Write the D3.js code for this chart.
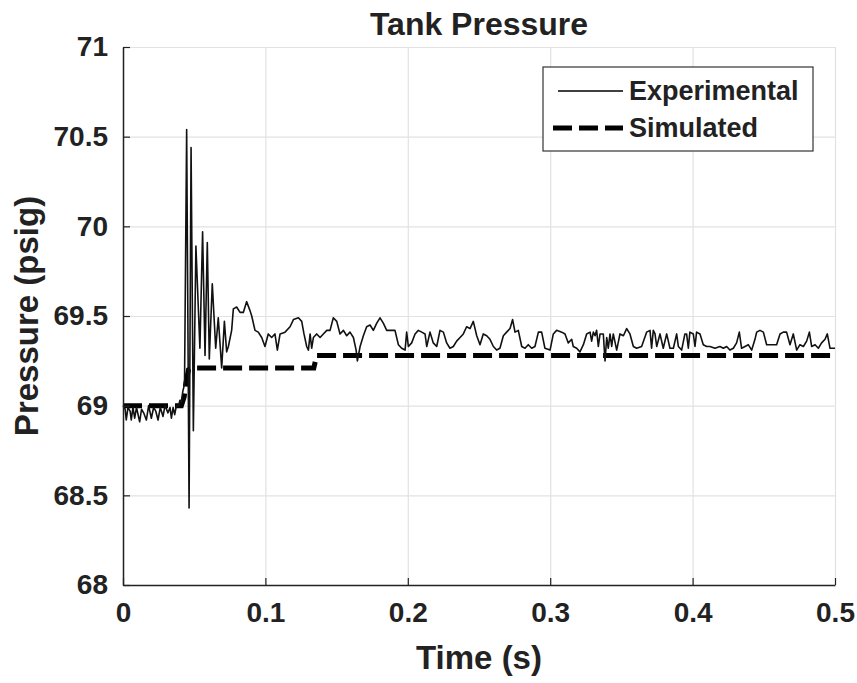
<!DOCTYPE html>
<html>
<head>
<meta charset="utf-8">
<script src="https://cdn.jsdelivr.net/npm/d3@7"></script>
<style>
  body { margin: 0; background: #fff; }
  text { font-family: "Liberation Sans", Arial, sans-serif; font-weight: bold; fill: #222; }
</style>
</head>
<body>
<div id="chart"></div>
<script>
// Tank pressure, experimental vs simulated
const expTime = [
  0.0000, 0.0015, 0.0023, 0.0035, 0.0050, 0.0058, 0.0070, 0.0082, 0.0095, 0.0117,
  0.0130, 0.0145, 0.0164, 0.0180, 0.0199, 0.0215, 0.0230, 0.0246, 0.0262, 0.0281,
  0.0295, 0.0316, 0.0330, 0.0340, 0.0352, 0.0363, 0.0375, 0.0390, 0.0400, 0.0410,
  0.0420, 0.0432, 0.0447, 0.0464, 0.0478, 0.0494, 0.0512, 0.0540, 0.0559, 0.0576,
  0.0592, 0.0606, 0.0627, 0.0651, 0.0669, 0.0693, 0.0712, 0.0728, 0.0740, 0.0763,
  0.0775, 0.0798, 0.0822, 0.0845, 0.0868, 0.0892, 0.0904, 0.0927, 0.0950, 0.0974,
  0.0997, 0.1020, 0.1044, 0.1067, 0.1084, 0.1103, 0.1138, 0.1173, 0.1197, 0.1232,
  0.1255, 0.1271, 0.1290, 0.1302, 0.1314, 0.1325, 0.1337, 0.1360, 0.1384, 0.1407,
  0.1431, 0.1454, 0.1477, 0.1501, 0.1524, 0.1548, 0.1571, 0.1594, 0.1618, 0.1637,
  0.1646, 0.1665, 0.1688, 0.1711, 0.1735, 0.1758, 0.1782, 0.1805, 0.1828, 0.1852,
  0.1875, 0.1910, 0.1934, 0.1957, 0.1981, 0.1992, 0.2004, 0.2027, 0.2051, 0.2074,
  0.2098, 0.2121, 0.2133, 0.2156, 0.2179, 0.2203, 0.2226, 0.2250, 0.2273, 0.2296,
  0.2320, 0.2343, 0.2367, 0.2390, 0.2413, 0.2437, 0.2460, 0.2484, 0.2507, 0.2530,
  0.2554, 0.2577, 0.2601, 0.2624, 0.2647, 0.2671, 0.2694, 0.2718, 0.2736, 0.2753,
  0.2776, 0.2800, 0.2823, 0.2846, 0.2870, 0.2893, 0.2917, 0.2940, 0.2963, 0.2999,
  0.3022, 0.3045, 0.3081, 0.3104, 0.3127, 0.3151, 0.3162, 0.3186, 0.3209, 0.3233,
  0.3256, 0.3280, 0.3291, 0.3303, 0.3315, 0.3326, 0.3338, 0.3350, 0.3373, 0.3385,
  0.3397, 0.3408, 0.3420, 0.3432, 0.3443, 0.3467, 0.3490, 0.3514, 0.3537, 0.3560,
  0.3584, 0.3607, 0.3642, 0.3677, 0.3701, 0.3712, 0.3724, 0.3736, 0.3748, 0.3771,
  0.3794, 0.3818, 0.3841, 0.3865, 0.3888, 0.3900, 0.3923, 0.3946, 0.3958, 0.3970,
  0.3981, 0.4005, 0.4017, 0.4028, 0.4052, 0.4075, 0.4099, 0.4122, 0.4157, 0.4192,
  0.4216, 0.4239, 0.4262, 0.4286, 0.4309, 0.4328, 0.4344, 0.4368, 0.4391, 0.4415,
  0.4438, 0.4450, 0.4473, 0.4497, 0.4520, 0.4544, 0.4567, 0.4590, 0.4614, 0.4637,
  0.4660, 0.4684, 0.4707, 0.4731, 0.4754, 0.4778, 0.4801, 0.4820, 0.4836, 0.4860,
  0.4883, 0.4906, 0.4930, 0.4946, 0.4965, 0.5000
];
const expPressure = [
  69.00, 68.98, 68.92, 68.99, 68.97, 68.92, 68.99, 68.93, 68.99, 68.91,
  68.98, 68.96, 68.92, 69.00, 68.93, 68.99, 68.97, 68.92, 68.99, 68.94,
  69.00, 68.96, 68.99, 68.93, 68.99, 68.95, 69.00, 69.00, 69.03, 69.02,
  69.08, 69.12, 70.54, 68.43, 70.44, 68.86, 69.89, 69.32, 69.97, 69.28,
  69.91, 69.26, 69.68, 69.32, 69.49, 69.21, 69.47, 69.30, 69.33, 69.42,
  69.54, 69.55, 69.52, 69.52, 69.58, 69.53, 69.50, 69.42, 69.41, 69.38,
  69.33, 69.40, 69.38, 69.40, 69.31, 69.40, 69.41, 69.44, 69.48, 69.49,
  69.47, 69.40, 69.33, 69.31, 69.40, 69.32, 69.38, 69.40, 69.38, 69.40,
  69.42, 69.42, 69.49, 69.47, 69.40, 69.42, 69.39, 69.41, 69.38, 69.31,
  69.25, 69.33, 69.39, 69.44, 69.45, 69.42, 69.46, 69.49, 69.46, 69.42,
  69.42, 69.42, 69.34, 69.32, 69.31, 69.41, 69.33, 69.35, 69.40, 69.42,
  69.41, 69.40, 69.33, 69.41, 69.35, 69.33, 69.42, 69.41, 69.35, 69.32,
  69.33, 69.36, 69.38, 69.40, 69.44, 69.43, 69.47, 69.39, 69.34, 69.40,
  69.39, 69.37, 69.33, 69.31, 69.32, 69.39, 69.41, 69.43, 69.48, 69.41,
  69.42, 69.33, 69.32, 69.34, 69.32, 69.33, 69.41, 69.41, 69.32, 69.31,
  69.40, 69.42, 69.41, 69.40, 69.35, 69.37, 69.33, 69.32, 69.30, 69.34,
  69.40, 69.41, 69.36, 69.41, 69.39, 69.42, 69.33, 69.40, 69.40, 69.25,
  69.38, 69.32, 69.40, 69.33, 69.40, 69.31, 69.40, 69.39, 69.43, 69.40,
  69.33, 69.32, 69.33, 69.41, 69.42, 69.32, 69.42, 69.40, 69.33, 69.40,
  69.32, 69.40, 69.32, 69.32, 69.40, 69.33, 69.31, 69.40, 69.40, 69.32,
  69.41, 69.40, 69.33, 69.41, 69.40, 69.34, 69.33, 69.33, 69.32, 69.33,
  69.32, 69.33, 69.31, 69.32, 69.35, 69.41, 69.32, 69.33, 69.34, 69.31,
  69.37, 69.41, 69.42, 69.41, 69.34, 69.34, 69.34, 69.34, 69.40, 69.41,
  69.41, 69.34, 69.40, 69.31, 69.34, 69.33, 69.36, 69.41, 69.33, 69.34,
  69.32, 69.35, 69.37, 69.40, 69.32, 69.32
];

const simTime = [0.000, 0.041, 0.043, 0.044, 0.046, 0.049, 0.134, 0.136, 0.500];
const simPressure = [69.00, 69.00, 69.05, 69.12, 69.20, 69.21, 69.21, 69.28, 69.28];

const xTicks = [0, 0.1, 0.2, 0.3, 0.4, 0.5];
const xTickLabels = ["0", "0.1", "0.2", "0.3", "0.4", "0.5"];
const yTicks = [68, 68.5, 69, 69.5, 70, 70.5, 71];
const yTickLabels = ["68", "68.5", "69", "69.5", "70", "70.5", "71"];

const width = 857, height = 683;
const margin = { top: 47, right: 22, bottom: 98, left: 123 };
const innerW = width - margin.left - margin.right;
const innerH = height - margin.top - margin.bottom;

const svg = d3.select("#chart").append("svg")
  .attr("width", width)
  .attr("height", height);

const g = svg.append("g")
  .attr("transform", `translate(${margin.left},${margin.top})`);

const x = d3.scaleLinear().domain([0, 0.5]).range([0, innerW]);
const y = d3.scaleLinear().domain([68, 71]).range([innerH, 0]);

// grid
g.append("g")
  .attr("transform", `translate(0,${innerH})`)
  .call(d3.axisBottom(x).tickValues(xTicks).tickSize(-innerH).tickFormat(""))
  .call(s => s.select(".domain").remove())
  .call(s => s.selectAll("line").attr("stroke", "#e2e2e2").attr("stroke-width", 1.2));

g.append("g")
  .call(d3.axisLeft(y).tickValues(yTicks).tickSize(-innerW).tickFormat(""))
  .call(s => s.select(".domain").remove())
  .call(s => s.selectAll("line").attr("stroke", "#e2e2e2").attr("stroke-width", 1.2));

// series
const expData = expTime.map((t, i) => ({ t, p: expPressure[i] }));
const simData = simTime.map((t, i) => ({ t, p: simPressure[i] }));

const line = d3.line()
  .x(d => x(d.t))
  .y(d => y(d.p));

g.append("path")
  .datum(simData)
  .attr("fill", "none")
  .attr("stroke", "#000")
  .attr("stroke-width", 5)
  .attr("stroke-dasharray", "19,7")
  .attr("d", line);

g.append("path")
  .datum(expData)
  .attr("fill", "none")
  .attr("stroke", "#111")
  .attr("stroke-width", 1.6)
  .attr("stroke-linejoin", "round")
  .attr("d", line);

// axes
const xAxis = g.append("g")
  .attr("transform", `translate(0,${innerH})`)
  .call(d3.axisBottom(x).tickValues(xTicks)
    .tickFormat((d, i) => xTickLabels[i])
    .tickSizeInner(-7).tickSizeOuter(0).tickPadding(17));

const yAxis = g.append("g")
  .call(d3.axisLeft(y).tickValues(yTicks)
    .tickFormat((d, i) => yTickLabels[i])
    .tickSizeInner(-7).tickSizeOuter(0).tickPadding(15));

[xAxis, yAxis].forEach(a => {
  a.select(".domain").attr("stroke", "#222").attr("stroke-width", 1.5);
  a.selectAll(".tick line").attr("stroke", "#222").attr("stroke-width", 1.2);
  a.selectAll(".tick text")
    .style("font-family", "'Liberation Sans', Arial, sans-serif")
    .style("font-weight", "bold")
    .style("font-size", "28px")
    .attr("fill", "#222");
});

// title and labels
svg.append("text")
  .attr("x", margin.left + innerW / 2)
  .attr("y", 35)
  .attr("text-anchor", "middle")
  .style("font-size", "32px")
  .text("Tank Pressure");

svg.append("text")
  .attr("x", margin.left + innerW / 2)
  .attr("y", 669)
  .attr("text-anchor", "middle")
  .style("font-size", "33px")
  .text("Time (s)");

svg.append("text")
  .attr("transform", `translate(38,${margin.top + innerH / 2}) rotate(-90)`)
  .attr("text-anchor", "middle")
  .style("font-size", "33px")
  .text("Pressure (psig)");

// legend
const legend = svg.append("g").attr("transform", "translate(543,67)");
legend.append("rect")
  .attr("width", 270).attr("height", 84)
  .attr("fill", "#fff").attr("stroke", "#333").attr("stroke-width", 1.2);

const legendItems = [
  { label: "Experimental", width: 1.6, dash: null, yy: 24 },
  { label: "Simulated", width: 5, dash: "19,7", yy: 61 }
];
legendItems.forEach(it => {
  legend.append("line")
    .attr("x1", it.dash ? 10 : 15).attr("x2", 80)
    .attr("y1", it.yy).attr("y2", it.yy)
    .attr("stroke", "#000").attr("stroke-width", it.width)
    .attr("stroke-dasharray", it.dash);
  legend.append("text")
    .attr("x", 86).attr("y", it.yy)
    .attr("dy", "0.35em")
    .style("font-size", "27px")
    .text(it.label);
});
</script>
</body>
</html>
